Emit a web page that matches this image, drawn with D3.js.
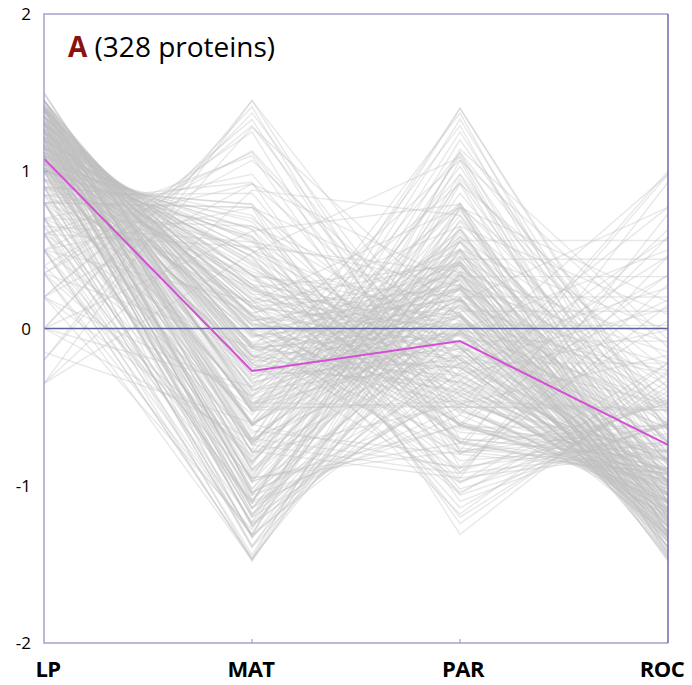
<!DOCTYPE html>
<html>
<head>
<meta charset="utf-8">
<script src="https://cdn.jsdelivr.net/npm/d3@7"></script>
<style>
  body { margin: 0; background: #fff; }
  text { font-family: "Open Sans", sans-serif; }
</style>
</head>
<body>
<div id="chart"></div>
<script>
var stages = ["LP", "MAT", "PAR", "ROC"];
var yTicks = [-2, -1, 0, 1, 2];
var meanProfile = [1.08, -0.27, -0.08, -0.74];
var titleLetter = "A", titleRest = " (328 proteins)";

// one row per protein: LP, MAT, PAR, ROC (standardised)
var profiles = [
  [1.50,-0.50,-0.50,-0.50],[1.49,-0.47,-0.50,-0.52],[1.50,-0.52,-0.46,-0.52],
  [1.45,-0.17,-0.48,-0.79],[1.45,-0.27,-0.34,-0.84],[1.45,-0.48,-0.17,-0.79],[1.45,-0.70,-0.12,-0.63],
  [1.45,-0.12,-0.72,-0.61],[1.45,-0.79,-0.17,-0.48],[1.45,-0.79,-0.48,-0.17],[1.45,-0.17,-0.79,-0.48],
  [1.45,-0.39,-0.23,-0.83],[1.45,-0.23,-0.39,-0.83],
  [1.42,-0.11,-0.41,-0.89],[1.42,-0.30,-0.20,-0.92],[1.42,-0.53,-0.04,-0.83],[1.42,-0.74,-0.02,-0.64],
  [1.42,-0.02,-0.64,-0.74],[1.42,-0.20,-0.30,-0.92],
  [1.40,-0.03,-0.91,-0.47],[1.40,0.04,-0.66,-0.78],[1.40,0.02,-0.60,-0.83],[1.40,-0.03,-0.47,-0.91],
  [1.40,-0.11,-0.34,-0.96],[1.40,-0.18,-0.25,-0.97],[1.40,-0.34,-0.11,-0.96],[1.40,-0.47,-0.03,-0.91],
  [1.40,-0.60,0.02,-0.83],[1.40,-0.72,0.04,-0.72],[1.40,-0.91,-0.03,-0.47],[1.40,-0.98,-0.22,-0.22],
  [1.40,-0.65,-0.80,0.05],[1.40,-0.22,-0.98,-0.22],
  [1.38,0.06,-0.53,-0.90],[1.38,-0.13,-0.25,-1.00],[1.38,-0.39,-0.02,-0.97],[1.38,-0.67,0.08,-0.79],
  [1.38,-0.90,0.05,-0.53],[1.38,0.08,-0.79,-0.67],[1.38,-0.25,-0.13,-1.00],
  [1.35,0.08,-0.98,-0.45],[1.35,0.15,-0.89,-0.61],[1.35,0.15,-0.61,-0.89],[1.35,0.08,-0.45,-0.98],
  [1.35,-0.01,-0.29,-1.05],[1.35,-0.10,-0.19,-1.06],[1.35,-0.29,-0.01,-1.05],[1.35,-0.45,0.08,-0.98],
  [1.35,-0.61,0.15,-0.89],[1.35,-0.89,0.15,-0.61],[1.35,-1.05,-0.01,-0.29],[1.35,-1.05,-0.29,-0.01],
  [1.35,-0.61,-0.89,0.15],[1.35,-0.01,-1.05,-0.29],
  [1.32,0.09,-0.35,-1.06],[1.32,-0.18,-0.04,-1.10],[1.32,-0.53,0.19,-0.97],[1.32,-0.84,0.22,-0.70],
  [1.32,0.22,-0.70,-0.84],[1.32,-0.04,-0.18,-1.10],[1.32,-0.35,0.09,-1.06],[1.32,-1.09,0.03,-0.27],
  [1.30,0.18,-1.04,-0.43],[1.30,0.28,-0.84,-0.74],[1.30,0.25,-0.61,-0.93],[1.30,0.18,-0.43,-1.04],
  [1.30,0.07,-0.25,-1.11],[1.30,-0.12,-0.03,-1.15],[1.30,-0.25,0.07,-1.11],[1.30,-0.43,0.18,-1.04],
  [1.30,-0.61,0.25,-0.93],[1.30,-0.78,0.28,-0.78],[1.30,-1.04,0.18,-0.43],[1.30,-1.14,-0.08,-0.08],
  [1.30,-1.04,-0.43,0.18],[1.30,-0.70,-0.88,0.28],
  [1.27,0.28,-0.52,-1.02],[1.27,0.03,-0.13,-1.16],[1.27,-0.32,0.18,-1.11],[1.27,-0.71,0.32,-0.87],
  [1.27,-1.02,0.27,-0.52],[1.27,-0.13,0.03,-1.16],[1.27,-0.52,0.28,-1.02],
  [1.25,0.34,-0.97,-0.62],[1.25,0.34,-0.62,-0.97],[1.25,0.26,-0.42,-1.10],[1.25,0.13,-0.22,-1.18],
  [1.25,0.02,-0.08,-1.19],[1.25,-0.22,0.13,-1.18],[1.25,-0.42,0.26,-1.10],[1.25,-0.62,0.34,-0.97],
  [1.25,-0.97,0.34,-0.62],[1.25,-1.18,0.13,-0.22],[1.25,-1.18,-0.22,0.13],[1.25,-0.97,-0.62,0.34],
  [1.25,0.13,-1.18,-0.22],
  [1.22,0.25,-0.30,-1.17],[1.22,-0.10,0.08,-1.21],[1.22,-0.52,0.36,-1.07],[1.22,-0.90,0.40,-0.72],
  [1.22,0.40,-0.72,-0.90],[1.22,0.08,-0.10,-1.21],[1.22,-0.30,0.25,-1.17],[1.22,-0.72,0.40,-0.90],
  [1.20,0.34,-1.14,-0.40],[1.20,0.45,-0.76,-0.89],[1.20,0.42,-0.62,-1.00],[1.20,0.34,-0.40,-1.14],
  [1.20,0.20,-0.18,-1.22],[1.20,-0.05,0.10,-1.25],[1.20,-0.18,0.20,-1.22],[1.20,-0.40,0.34,-1.14],
  [1.20,-0.62,0.42,-1.00],[1.20,-0.82,0.45,-0.82],[1.20,-1.14,0.34,-0.40],[1.20,-1.25,0.02,0.02],
  [1.20,-1.14,-0.40,0.34],[1.20,-0.74,-0.92,0.46],
  [1.17,0.43,-0.51,-1.09],[1.17,0.14,-0.05,-1.26],[1.17,-0.27,0.31,-1.20],[1.17,-0.73,0.48,-0.92],
  [1.17,-1.09,0.42,-0.51],[1.17,-0.05,0.14,-1.26],[1.17,-0.51,0.43,-1.09],
  [1.15,0.50,-1.02,-0.61],[1.15,0.50,-0.61,-1.02],[1.15,0.26,-0.15,-1.26],[1.15,0.13,0.01,-1.29],
  [1.15,-0.15,0.26,-1.26],[1.15,-0.61,0.50,-1.02],[1.15,-1.02,0.50,-0.61],[1.15,-1.26,0.26,-0.15],
  [1.15,-1.26,-0.15,0.26],[1.15,-0.38,0.41,-1.17],[1.15,0.41,-0.38,-1.17],
  [1.12,0.38,-0.24,-1.23],[1.12,-0.01,0.19,-1.29],[1.12,-0.50,0.51,-1.12],[1.12,-0.93,0.55,-0.73],
  [1.12,0.55,-0.73,-0.93],[1.12,0.19,-0.01,-1.29],[1.12,-0.24,0.38,-1.23],
  [1.10,0.46,-1.20,-0.37],[1.10,0.59,-0.92,-0.77],[1.10,0.46,-0.37,-1.20],[1.10,0.31,-0.12,-1.30],
  [1.10,0.05,0.18,-1.33],[1.10,-0.12,0.31,-1.30],[1.10,-0.37,0.46,-1.20],[1.10,-0.85,0.59,-0.85],
  [1.10,-1.20,0.46,-0.37],[1.10,-1.33,0.11,0.11],[1.10,-1.20,-0.37,0.46],[1.10,-0.95,-0.73,0.58],
  [1.07,0.56,-0.49,-1.15],[1.07,0.24,0.02,-1.33],[1.07,-0.22,0.43,-1.27],[1.07,-0.73,0.61,-0.95],
  [1.07,0.02,0.24,-1.33],[1.07,-0.49,0.56,-1.15],[1.07,-1.15,0.55,-0.49],
  [1.05,0.63,-0.61,-1.06],[1.05,0.36,-0.09,-1.33],[1.05,0.22,0.08,-1.35],[1.05,-0.09,0.36,-1.33],
  [1.05,-0.61,0.63,-1.06],[1.05,-1.06,0.63,-0.61],[1.05,-1.33,0.36,-0.09],[1.05,-1.06,-0.61,0.63],
  [1.05,0.63,-1.06,-0.61],
  [1.02,0.49,-0.20,-1.29],[1.02,0.05,0.28,-1.36],[1.02,-0.48,0.63,-1.17],[1.02,-0.96,0.68,-0.73],
  [1.02,0.28,0.05,-1.36],[1.02,-0.20,0.49,-1.29],[1.02,0.68,-0.73,-0.96],
  [1.00,0.58,-1.24,-0.33],[1.00,0.72,-0.80,-0.92],[1.00,0.58,-0.33,-1.24],[1.00,0.14,0.25,-1.39],
  [1.00,-0.06,0.41,-1.35],[1.00,-0.33,0.58,-1.24],[1.00,-0.86,0.72,-0.86],[1.00,-1.24,0.58,-0.33],
  [1.00,-1.38,0.20,0.20],[1.00,-1.24,-0.33,0.58],[1.00,-0.78,-0.95,0.73],
  [0.95,0.70,-0.47,-1.19],[0.95,0.34,0.10,-1.39],[0.95,-0.17,0.55,-1.33],[0.95,-0.74,0.75,-0.98],
  [0.95,-1.19,0.69,-0.47],[0.95,0.10,0.34,-1.39],
  [0.90,0.79,-0.59,-1.10],[0.90,0.50,-0.01,-1.39],[0.90,0.33,0.20,-1.43],[0.90,-0.01,0.50,-1.39],
  [0.90,-0.59,0.79,-1.10],[0.90,-1.10,0.79,-0.59],[0.90,-1.39,0.50,-0.01],[0.90,-1.39,-0.01,0.50],
  [0.90,0.79,-1.10,-0.59],
  [0.85,0.65,-0.12,-1.35],[0.85,0.16,0.42,-1.42],[0.85,-0.44,0.80,-1.21],[0.85,-0.98,0.86,-0.72],
  [0.85,0.86,-0.72,-0.98],
  [0.80,0.77,-1.31,-0.27],[0.80,0.93,-0.95,-0.78],[0.80,0.77,-0.27,-1.31],[0.80,0.26,0.40,-1.46],
  [0.80,-0.27,0.77,-1.31],[0.80,-0.87,0.93,-0.87],[0.80,-1.31,0.77,-0.27],[0.80,-1.47,0.33,0.33],
  [0.80,-1.31,-0.27,0.77],[0.80,-0.95,-0.78,0.93],
  [0.70,0.98,-0.55,-1.11],[0.70,0.65,0.09,-1.44],[0.70,0.09,0.65,-1.44],[0.70,-0.55,0.98,-1.11],
  [0.70,-1.11,0.98,-0.55],[0.70,-1.44,0.65,0.09],[0.70,-1.11,-0.55,0.98],
  [0.65,0.55,0.27,-1.47],[0.65,-0.70,1.03,-0.98],[0.65,-1.23,0.95,-0.38],
  [0.60,1.10,-0.78,-0.92],[0.60,0.92,-0.20,-1.32],[0.60,0.52,0.36,-1.48],[0.60,-0.20,0.92,-1.32],
  [0.60,-0.85,1.10,-0.85],[0.60,-1.32,0.92,-0.20],[0.60,-1.48,0.44,0.44],[0.60,-1.10,-0.50,1.00],
  [0.50,1.12,-0.51,-1.11],[0.50,0.77,0.17,-1.46],[0.50,0.17,0.77,-1.46],[0.50,-0.51,1.12,-1.11],
  [0.50,-1.11,1.12,-0.51],[0.50,-1.46,0.77,0.17],[0.50,-1.46,0.17,0.77],[0.50,-1.32,-0.17,0.98],
  [0.40,1.13,-0.32,-1.22],[0.40,-0.95,1.20,-0.65],
  [0.35,1.25,-0.88,-0.72],[0.35,1.07,-0.12,-1.31],[0.35,-0.12,1.07,-1.31],[0.35,-0.81,1.25,-0.81],
  [0.35,-1.31,1.07,-0.12],[0.35,-1.47,0.56,0.56],
  [0.20,1.33,-0.70,-0.83],[0.20,1.29,-0.43,-1.06],[0.20,0.92,0.29,-1.42],[0.20,-0.43,1.29,-1.06],
  [0.20,-0.77,1.33,-0.77],[0.20,-1.28,1.14,-0.07],
  [0.00,1.41,-0.78,-0.63],[0.00,1.37,-0.37,-1.00],[0.00,-0.71,1.40,-0.69],[0.00,-0.37,1.37,-1.00],
  [0.00,0.62,0.79,-1.41],
  [-0.20,1.45,-0.63,-0.62],[-0.15,-0.60,1.40,-0.65],[-0.20,1.28,0.07,-1.14],
  [-0.35,1.45,-0.24,-0.85],[-0.35,0.48,1.09,-1.21],[-0.35,0.88,0.72,-1.25]
];

// horizontal nudge of the bottom labels, in px
var xLabelShift = [4, -1, 3, -6];

var width = 692,
  height = 685,
  margin = {left: 44, right: 24, top: 14, bottom: 42},
  svg = d3.select("#chart")
    .append("svg")
    .attr("width", width)
    .attr("height", height),
  x = d3.scalePoint()
    .domain(stages)
    .range([margin.left, width - margin.right]),
  y = d3.scaleLinear()
    .domain([-2, 2])
    .range([height - margin.bottom, margin.top]);

var line = d3.line()
  .x(function (d, i) { return x(stages[i]); })
  .y(function (d) { return y(d); });

function draw() {
  svg.append("g")
    .selectAll("path")
    .data(profiles)
    .enter()
    .append("path")
    .attr("d", line)
    .attr("fill", "none")
    .attr("stroke", "#c0c0c0")
    .attr("stroke-opacity", 0.36)
    .attr("stroke-width", 1.4);

  // zero line
  svg.append("line")
    .attr("x1", x.range()[0]).attr("x2", x.range()[1])
    .attr("y1", y(0)).attr("y2", y(0))
    .attr("stroke", "#62629a")
    .attr("stroke-width", 1.4);

  svg.append("path")
    .datum(meanProfile)
    .attr("d", line)
    .attr("fill", "none")
    .attr("stroke", "#d44fd4")
    .attr("stroke-width", 2);

  // frame
  var x0 = x.range()[0], x1 = x.range()[1], yb = y(-2), yt = y(2);
  svg.append("path")
    .attr("d", "M" + x1 + "," + yt + "H" + x0 + "V" + yb + "H" + x1)
    .attr("fill", "none")
    .attr("stroke", "#a3a3cf")
    .attr("stroke-width", 1.5);
  svg.append("line")
    .attr("x1", x1).attr("x2", x1).attr("y1", yt).attr("y2", yb)
    .attr("stroke", "#6a6aae")
    .attr("stroke-width", 1.5);

  // small ticks
  svg.append("line")
    .attr("x1", x0).attr("x2", x0 + 4).attr("y1", y(1)).attr("y2", y(1))
    .attr("stroke", "#a3a3cf").attr("stroke-width", 1.2);
  svg.selectAll(".xt")
    .data(stages.slice(1, 3))
    .enter().append("line")
    .attr("x1", function (d) { return x(d); })
    .attr("x2", function (d) { return x(d); })
    .attr("y1", yb).attr("y2", yb - 4)
    .attr("stroke", "#a3a3cf").attr("stroke-width", 1.2);

  svg.selectAll(".ylab")
    .data(yTicks)
    .enter().append("text")
    .attr("x", 31)
    .attr("y", function (d) { return y(d); })
    .attr("dy", "0.36em")
    .attr("text-anchor", "end")
    .attr("font-size", "17px")
    .attr("fill", "#000")
    .text(function (d) { return d; });

  svg.selectAll(".xlab")
    .data(stages)
    .enter().append("text")
    .attr("x", function (d, i) { return x(d) + xLabelShift[i]; })
    .attr("y", 677)
    .attr("text-anchor", "middle")
    .attr("font-size", "22px")
    .attr("font-weight", "bold")
    .attr("letter-spacing", "-0.5px")
    .attr("fill", "#000")
    .text(function (d) { return d; });

  var title = svg.append("text")
    .attr("x", 68)
    .attr("y", 57)
    .attr("font-size", "28px")
    .attr("fill", "#000");
  title.append("tspan")
    .attr("font-weight", "bold")
    .attr("fill", "#8b1111")
    .text(titleLetter);
  title.append("tspan").text(titleRest);
}

draw();
</script>
</body>
</html>
